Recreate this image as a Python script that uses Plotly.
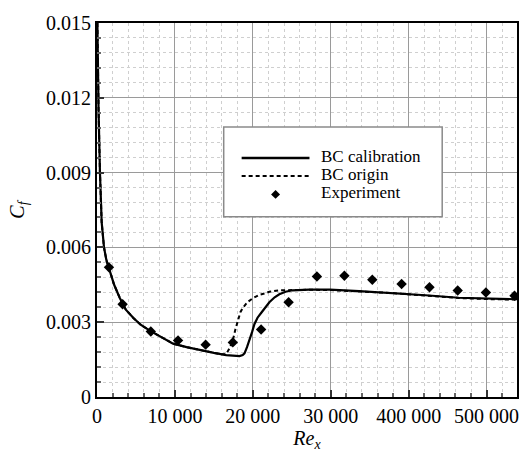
import plotly.graph_objects as go

# ---- data ----
re_cal = [50, 100, 200, 380, 600, 900, 1200, 1600, 2200, 2940, 3700, 4640, 5600, 6780, 8200,
          9760, 11500, 13170, 15000, 16580, 17500, 18290, 18700, 18930, 19250, 19570, 19900,
          20200, 20600, 21060, 21600, 22120, 22800, 23400, 24200, 25100, 27240, 29880, 33630,
          37900, 42160, 46420, 50680, 54000]
cf_cal = [0.0150, 0.0135, 0.0115, 0.0090, 0.0070, 0.0060, 0.0055, 0.0051, 0.0045, 0.00396,
          0.00350, 0.00318, 0.00290, 0.00266, 0.00240, 0.00214, 0.00200, 0.00188, 0.00177,
          0.00168, 0.00165, 0.00164, 0.00168, 0.00175, 0.00200, 0.00227, 0.00260, 0.00292,
          0.00318, 0.00337, 0.00360, 0.00380, 0.00400, 0.00412, 0.00422, 0.00428, 0.00431,
          0.00431, 0.00425, 0.00418, 0.00408, 0.00398, 0.00393, 0.00392]

re_org = [50, 100, 200, 380, 600, 900, 1200, 1600, 2200, 2940, 3700, 4640, 5600, 6780, 8200,
          9760, 11500, 13170, 15000, 16000, 16580, 17000, 17430, 17750, 18070, 18400, 18700,
          19300, 20000, 20840, 21700, 22120, 23400, 25100, 27240, 29880, 33630, 37900, 42160,
          46420, 50680, 54000]
cf_org = [0.0150, 0.0135, 0.0115, 0.0090, 0.0070, 0.0060, 0.0055, 0.0051, 0.0045, 0.00396,
          0.00350, 0.00318, 0.00290, 0.00266, 0.00240, 0.00214, 0.00200, 0.00188, 0.00177,
          0.00171, 0.00172, 0.00195, 0.00227, 0.00270, 0.00305, 0.00340, 0.00357, 0.00380,
          0.00396, 0.00410, 0.00417, 0.00422, 0.00428, 0.00430, 0.00430, 0.00429, 0.00424,
          0.00417, 0.00407, 0.00397, 0.00392, 0.00391]

re_exp = [1535, 3286, 6905, 10400, 13940, 17430, 21060, 24590, 28220, 31750, 35330, 39090,
          42670, 46290, 49910, 53580]
cf_exp = [0.00520, 0.00372, 0.00263, 0.00227, 0.00210, 0.00219, 0.00271, 0.00380, 0.00483,
          0.00486, 0.00470, 0.00453, 0.00440, 0.00427, 0.00419, 0.00406]

series_names = ["BC calibration", "BC origin", "Experiment"]

x_tickvals = [0, 10000, 20000, 30000, 40000, 50000]
x_ticktext = ["0", "10 000", "20 000", "30 000", "400 000", "500 000"]
y_tickvals = [0, 0.003, 0.006, 0.009, 0.012, 0.015]
y_ticktext = ["0", "0.003", "0.006", "0.009", "0.012", "0.015"]

FONT = "Liberation Serif"
DASH = "4px,3px"

fig = go.Figure()
fig.add_trace(go.Scatter(x=re_cal, y=cf_cal, mode="lines", name=series_names[0],
                         line=dict(color="black", width=2.2), showlegend=False))
fig.add_trace(go.Scatter(x=re_org, y=cf_org, mode="lines", name=series_names[1],
                         line=dict(color="black", width=2, dash=DASH), showlegend=False))
fig.add_trace(go.Scatter(x=re_exp, y=cf_exp, mode="markers", name=series_names[2],
                         marker=dict(symbol="diamond", size=8, color="black"), showlegend=False))

axis_common = dict(
    showline=True, linecolor="black", linewidth=2, mirror=True,
    ticks="inside", ticklen=7, tickwidth=2, tickcolor="#333",
    showgrid=True, gridcolor="#9a9a9a", gridwidth=1,
    zeroline=False,
    tickfont=dict(family=FONT, size=20, color="black"),
)

fig.update_xaxes(
    range=[0, 53900], tickvals=x_tickvals, ticktext=x_ticktext,
    minor=dict(dtick=2000, tick0=0, ticks="inside", ticklen=4, tickcolor="#666",
               showgrid=True, gridcolor="#cfcfcf", griddash="dot", gridwidth=1),
    title=dict(text="<i>Re</i><sub><i>x</i></sub>", font=dict(family=FONT, size=20, color="black"),
               standoff=2),
    **axis_common,
)
fig.update_yaxes(
    range=[0, 0.015], tickvals=y_tickvals, ticktext=y_ticktext,
    minor=dict(dtick=0.0006, tick0=0, ticks="inside", ticklen=4, tickcolor="#666",
               showgrid=True, gridcolor="#cfcfcf", griddash="dot", gridwidth=1),
    title=dict(text="<i>C</i><sub><i>f</i></sub>", font=dict(family=FONT, size=20, color="black"),
               standoff=16),
    **axis_common,
)

# ---- hand-drawn legend box (paper coordinates) ----
box = dict(x0=0.3017, x1=0.8219, y0=0.4818, y1=0.7221)
row_y = [0.6388, 0.5911, 0.5417]
sym_x0, sym_x1 = 0.3444, 0.5059
text_x = 0.532

shapes = [
    dict(type="rect", xref="paper", yref="paper", **box,
         line=dict(color="#8a8a8a", width=1.5), fillcolor="white", layer="above"),
    dict(type="line", xref="paper", yref="paper", x0=sym_x0, x1=sym_x1, y0=row_y[0], y1=row_y[0],
         line=dict(color="black", width=2.5), layer="above"),
    dict(type="line", xref="paper", yref="paper", x0=sym_x0, x1=sym_x1, y0=row_y[1], y1=row_y[1],
         line=dict(color="black", width=2, dash=DASH), layer="above"),
]
cx = (sym_x0 + sym_x1) / 2
dx, dy = 4.5 / 421, 4.5 / 384
shapes.append(dict(type="path", xref="paper", yref="paper",
                   path=f"M {cx - dx} {row_y[2]} L {cx} {row_y[2] + dy} L {cx + dx} {row_y[2]} "
                        f"L {cx} {row_y[2] - dy} Z",
                   fillcolor="black", line=dict(color="black", width=0), layer="above"))

annotations = [
    dict(xref="paper", yref="paper", x=text_x, y=ry + 0.004, text=nm, showarrow=False,
         xanchor="left", yanchor="middle", borderpad=0,
         font=dict(family=FONT, size=17, color="black"))
    for nm, ry in zip(series_names, row_y)
]

fig.update_layout(
    width=531, height=455,
    margin=dict(l=97, r=13, t=14, b=57),
    paper_bgcolor="white", plot_bgcolor="white",
    font=dict(family=FONT, color="black"),
    showlegend=False,
    shapes=shapes,
    annotations=annotations,
)

fig.write_html("out.html", config={"displayModeBar": False},
               post_script="document.body.style.margin='0';")
